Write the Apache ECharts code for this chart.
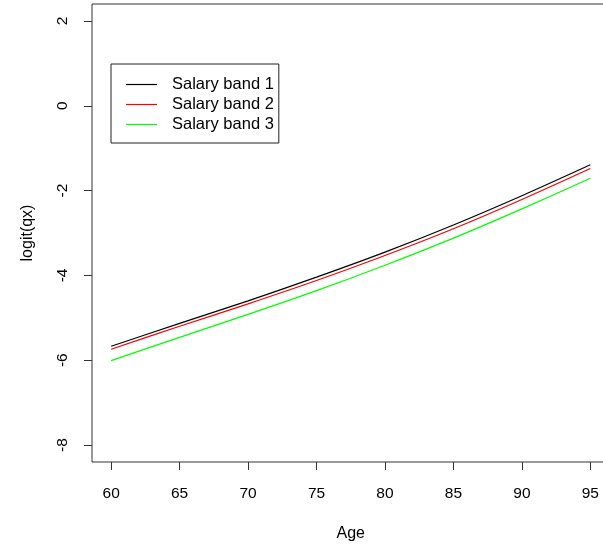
<!DOCTYPE html>
<html>
<head>
<meta charset="utf-8">
<script src="https://cdn.jsdelivr.net/npm/echarts@6/dist/echarts.min.js"></script>
<style>
html,body{margin:0;padding:0;background:#fff;}
#c{width:603px;height:544px;}
</style>
</head>
<body>
<div id="c"></div>
<script>
const ages = [60, 65, 70, 75, 80, 85, 90, 95];
const band1 = [-5.67, -5.13, -4.60, -4.04, -3.45, -2.81, -2.12, -1.39];
const band2 = [-5.74, -5.20, -4.67, -4.12, -3.53, -2.90, -2.21, -1.48];
const band3 = [-6.01, -5.46, -4.92, -4.36, -3.76, -3.12, -2.43, -1.71];
const seriesNames = ['Salary band 1', 'Salary band 2', 'Salary band 3'];
const xTicks = [60, 65, 70, 75, 80, 85, 90, 95];
const yTicks = [-8, -6, -4, -2, 0, 2];

const font = 'Liberation Sans, Arial, sans-serif';
const chart = echarts.init(document.getElementById('c'));
const mk = (name, vals, color) => ({
  name: name,
  type: 'line',
  data: ages.map((a, i) => [a, vals[i]]),
  showSymbol: false,
  smooth: 0.3,
  clip: false,
  lineStyle: { color: color, width: 1.2 },
  itemStyle: { color: color },
  emphasis: { disabled: true },
  silent: true
});
chart.setOption({
  animation: false,
  backgroundColor: '#fff',
  grid: {
    left: 92, top: 4, width: 517.5, height: 458,
    containLabel: false,
    outerBoundsMode: 'none',
    show: true, borderColor: '#333', borderWidth: 1, backgroundColor: 'transparent'
  },
  legend: {
    orient: 'vertical',
    left: 111, top: 64,
    padding: [12, 5, 10, 15],
    borderColor: '#222', borderWidth: 1,
    icon: 'rect',
    itemWidth: 31, itemHeight: 1.2,
    itemGap: 3,
    textStyle: { fontSize: 16.5, color: '#000', fontFamily: font, lineHeight: 16, padding: [0, 0, 0, 10] },
    data: seriesNames
  },
  xAxis: {
    type: 'value', min: 58.6, max: 96.4,
    name: 'Age', nameLocation: 'middle', nameGap: 64,
    nameTextStyle: { fontSize: 16, color: '#000', fontFamily: font },
    splitLine: { show: false },
    axisLine: { show: false, onZero: false },
    axisTick: { show: true, customValues: xTicks, length: 8, lineStyle: { color: '#333' } },
    axisLabel: { customValues: xTicks, margin: 24, fontSize: 15.5, color: '#000', fontFamily: font }
  },
  yAxis: {
    type: 'value', min: -8.4, max: 2.4,
    name: 'logit(qx)', nameLocation: 'middle', nameGap: 56,
    nameTextStyle: { fontSize: 16, color: '#000', fontFamily: font },
    splitLine: { show: false },
    axisLine: { show: false, onZero: false },
    axisTick: { show: true, customValues: yTicks, length: 8, lineStyle: { color: '#333' } },
    axisLabel: { customValues: yTicks, rotate: 90, margin: 21, fontSize: 15.5, color: '#000', fontFamily: font,
      formatter: v => String(v) }
  },
  series: [
    mk(seriesNames[0], band1, '#000000'),
    mk(seriesNames[1], band2, '#ff0000'),
    mk(seriesNames[2], band3, '#00ff00')
  ]
});
</script>
</body>
</html>
